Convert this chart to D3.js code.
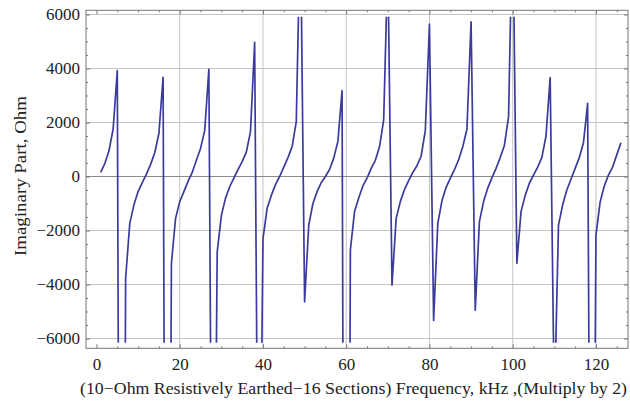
<!DOCTYPE html>
<html>
<head>
<meta charset="utf-8">
<script src="https://cdn.jsdelivr.net/npm/d3@7"></script>
<style>
  body { margin: 0; background: #fff; }
  text { font-family: "Liberation Serif", "Times New Roman", serif; fill: #222; }
</style>
</head>
<body>
<div id="chart"></div>
<script>
var svgWidth = 630;
var svgHeight = 403;

// frequency samples (kHz / 2)
var freq = [
  1, 2, 3, 4, 5, 6, 7, 8, 9, 10, 11, 12, 13, 14, 15, 16, 17, 18, 19, 20,
  21, 22, 23, 24, 25, 26, 27, 28, 29, 30, 31, 32, 33, 34, 35, 36, 37, 38, 39, 40,
  41, 42, 43, 44, 45, 46, 47, 48, 49, 50, 51, 52, 53, 54, 55, 56, 57, 58, 59, 60,
  61, 62, 63, 64, 65, 66, 67, 68, 69, 70, 71, 72, 73, 74, 75, 76, 77, 78, 79, 80,
  81, 82, 83, 84, 85, 86, 87, 88, 89, 90, 91, 92, 93, 94, 95, 96, 97, 98, 99, 100,
  101, 102, 103, 104, 105, 106, 107, 108, 109, 110, 111, 112, 113, 114, 115, 116, 117, 118, 119, 120,
  121, 122, 123, 124, 125, 126
];

// imaginary part of impedance, ohm (poles estimated)
var imagPart = [
  155, 480, 950, 1760, 3920, -40000, -3770, -1735, -1050, -560,
  -230, 90, 450, 880, 1600, 3675, -37000, -3215, -1550, -930,
  -560, -180, 150, 600, 1040, 1700, 3970, -21300, -2800, -1450,
  -800, -380, -60, 250, 550, 900, 1660, 4970, -17300, -2300,
  -1180, -700, -300, 0, 350, 700, 1100, 2030, 9500, -4640,
  -1800, -1000, -560, -230, 0, 260, 680, 1300, 3180, -43500,
  -2720, -1300, -800, -350, -60, 300, 600, 1100, 2100, 8000,
  -4020, -1550, -930, -480, -150, 150, 400, 750, 1700, 5640,
  -5330, -1735, -900, -400, -70, 250, 620, 1100, 1750, 5730,
  -4950, -1670, -930, -430, -50, 300, 700, 1150, 2200, 10000,
  -3215, -1300, -700, -250, 50, 350, 700, 1500, 3660, -8600,
  -1800, -1050, -500, -100, 300, 700, 1250, 2710, -26800, -2170,
  -950, -350, 50, 350, 800, 1250
];

var xTicks = [0, 20, 40, 60, 80, 100, 120];
var xGrid = [20, 40, 60, 80, 100, 120];
var xMinor = [5, 10, 15, 25, 30, 35, 45, 50, 55, 65, 70, 75, 85, 90, 95, 105, 110, 115, 125];
var yTicks = [-6000, -4000, -2000, 0, 2000, 4000, 6000];
var yMinor = [-5500, -5000, -4500, -3500, -3000, -2500, -1500, -1000, -500,
  500, 1000, 1500, 2500, 3000, 3500, 4500, 5000, 5500];
var plotRange = [-6155, 5920];

var pLeft = 86, pRight = 628, pTop = 10.3, pBottom = 348.3;

var svg = d3.select("#chart")
  .append("svg")
  .attr("width", svgWidth)
  .attr("height", svgHeight);

var xScale = d3.scaleLinear()
  .domain([-2.52, 127.7])
  .range([pLeft, pRight]);

var yScale = d3.scaleLinear()
  .domain([-6363, 6155])
  .range([pBottom, pTop]);

// grid lines
svg.append("g").selectAll("line")
  .data(xGrid)
  .enter().append("line")
  .attr("x1", function(d) { return xScale(d); })
  .attr("x2", function(d) { return xScale(d); })
  .attr("y1", pTop)
  .attr("y2", pBottom)
  .attr("stroke", "#c4c4c4")
  .attr("stroke-width", 1);

svg.append("g").selectAll("line")
  .data(yTicks)
  .enter().append("line")
  .attr("x1", pLeft)
  .attr("x2", pRight)
  .attr("y1", function(d) { return yScale(d); })
  .attr("y2", function(d) { return yScale(d); })
  .attr("stroke", function(d) { return d === 0 ? "#8a8a8a" : "#c4c4c4"; })
  .attr("stroke-width", 1);

// clip to plot range
svg.append("clipPath")
  .attr("id", "clip")
  .append("rect")
  .attr("x", pLeft)
  .attr("y", yScale(plotRange[1]))
  .attr("width", pRight - pLeft)
  .attr("height", yScale(plotRange[0]) - yScale(plotRange[1]));

var line = d3.line()
  .x(function(d, i) { return xScale(freq[i]); })
  .y(function(d) { return yScale(d); });

svg.append("path")
  .datum(imagPart)
  .attr("clip-path", "url(#clip)")
  .attr("d", line)
  .attr("fill", "none")
  .attr("stroke", "#3b3b9c")
  .attr("stroke-width", 1.7)
  .attr("stroke-linejoin", "round");

// frame
svg.append("rect")
  .attr("x", pLeft)
  .attr("y", pTop)
  .attr("width", pRight - pLeft)
  .attr("height", pBottom - pTop)
  .attr("fill", "none")
  .attr("stroke", "#777")
  .attr("stroke-width", 1);

function fmt(d) {
  return d < 0 ? "\u2212" + Math.abs(d) : "" + d;
}

function tidy(g) {
  g.select(".domain").remove();
  g.selectAll(".tick line").attr("stroke", "#777");
}

// bottom axis
var gx = svg.append("g")
  .attr("transform", "translate(0," + pBottom + ")")
  .call(d3.axisBottom(xScale).tickValues(xTicks)
    .tickSizeInner(-4).tickSizeOuter(0).tickPadding(10).tickFormat(fmt));
tidy(gx);
gx.selectAll("text").attr("font-size", 17).attr("fill", "#222");

var gxm = svg.append("g")
  .attr("transform", "translate(0," + pBottom + ")")
  .call(d3.axisBottom(xScale).tickValues(xMinor)
    .tickSizeInner(-2).tickSizeOuter(0).tickFormat(""));
tidy(gxm);

// top mirror ticks
var gxt = svg.append("g")
  .attr("transform", "translate(0," + pTop + ")")
  .call(d3.axisTop(xScale).tickValues(xTicks)
    .tickSizeInner(-4).tickSizeOuter(0).tickFormat(""));
tidy(gxt);
var gxtm = svg.append("g")
  .attr("transform", "translate(0," + pTop + ")")
  .call(d3.axisTop(xScale).tickValues(xMinor)
    .tickSizeInner(-2).tickSizeOuter(0).tickFormat(""));
tidy(gxtm);

// left axis
var gy = svg.append("g")
  .attr("transform", "translate(" + pLeft + ",0)")
  .call(d3.axisLeft(yScale).tickValues(yTicks)
    .tickSizeInner(-4).tickSizeOuter(0).tickPadding(6).tickFormat(fmt));
tidy(gy);
gy.selectAll("text").attr("font-size", 17).attr("fill", "#222");

var gym = svg.append("g")
  .attr("transform", "translate(" + pLeft + ",0)")
  .call(d3.axisLeft(yScale).tickValues(yMinor)
    .tickSizeInner(-2).tickSizeOuter(0).tickFormat(""));
tidy(gym);

// right mirror ticks
var gyr = svg.append("g")
  .attr("transform", "translate(" + pRight + ",0)")
  .call(d3.axisRight(yScale).tickValues(yTicks)
    .tickSizeInner(-4).tickSizeOuter(0).tickFormat(""));
tidy(gyr);
var gyrm = svg.append("g")
  .attr("transform", "translate(" + pRight + ",0)")
  .call(d3.axisRight(yScale).tickValues(yMinor)
    .tickSizeInner(-2).tickSizeOuter(0).tickFormat(""));
tidy(gyrm);

// axis titles
svg.append("text")
  .attr("x", 80)
  .attr("y", 394)
  .attr("font-size", 16)
  .attr("textLength", 547)
  .attr("lengthAdjust", "spacingAndGlyphs")
  .text("(10\u2212Ohm Resistively Earthed\u221216 Sections)  Frequency, kHz ,(Multiply by 2)");

svg.append("text")
  .attr("transform", "translate(26,176) rotate(-90)")
  .attr("text-anchor", "middle")
  .attr("font-size", 17)
  .attr("textLength", 160)
  .attr("lengthAdjust", "spacingAndGlyphs")
  .text("Imaginary Part, Ohm");
</script>
</body>
</html>
